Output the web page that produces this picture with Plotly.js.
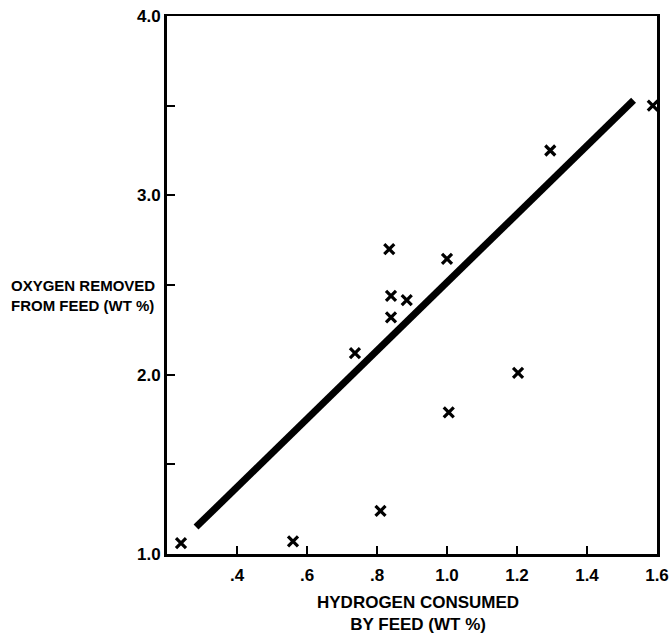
<!DOCTYPE html>
<html>
<head>
<meta charset="utf-8">
<script src="https://cdn.plot.ly/plotly-3.0.1.min.js"></script>
<style>html,body{margin:0;padding:0;background:#fff;}#chart{width:671px;height:638px;}</style>
</head>
<body>
<div id="chart"></div>
<script>
// Data
var hydrogenConsumed = [0.24, 0.56, 0.81, 0.835, 1.0, 0.84, 0.885, 0.84, 0.737, 1.203, 1.005, 1.295, 1.588];
var oxygenRemoved   = [1.06, 1.07, 1.24, 2.70, 2.646, 2.44, 2.415, 2.32, 2.12, 2.01, 1.79, 3.25, 3.50];
var fitX = [0.283, 1.533];
var fitY = [1.15, 3.53];
var xTickVals = [0.4, 0.6, 0.8, 1.0, 1.2, 1.4, 1.6];
var xTickText = ['.4', '.6', '.8', '1.0', '1.2', '1.4', '1.6'];
var yTickVals = [1.0, 1.5, 2.0, 2.5, 3.0, 3.5, 4.0];
var yTickText = ['1.0', '', '2.0', '', '3.0', '', '4.0'];

var FONT = "'Liberation Sans', Arial, sans-serif";
function bold(arr) { return arr.map(function (t) { return t ? '<b>' + t + '</b>' : ''; }); }

var traces = [
  {
    x: fitX, y: fitY, mode: 'lines', type: 'scatter',
    line: {color: '#000', width: 7}, hoverinfo: 'skip'
  },
  {
    x: hydrogenConsumed, y: oxygenRemoved, mode: 'markers', type: 'scatter',
    marker: {symbol: 'x-thin', size: 10, color: '#000', line: {color: '#000', width: 3.2}}
  }
];

var layout = {
  width: 671, height: 638,
  margin: {l: 167, r: 14, t: 16, b: 84},
  paper_bgcolor: '#fff', plot_bgcolor: '#fff',
  showlegend: false,
  font: {family: FONT, color: '#000', size: 17},
  xaxis: {
    range: [0.2, 1.6], tickvals: xTickVals, ticktext: bold(xTickText),
    ticks: 'inside', ticklen: 8, tickwidth: 2, tickcolor: '#000',
    showgrid: false, zeroline: false,
    showline: true, linecolor: '#000', linewidth: 2.5, mirror: true,
    tickfont: {family: FONT, size: 17, color: '#000'},
    ticklabelstandoff: 4
  },
  yaxis: {
    range: [1.0, 4.0], tickvals: yTickVals, ticktext: bold(yTickText),
    ticks: 'inside', ticklen: 8, tickwidth: 2, tickcolor: '#000',
    showgrid: false, zeroline: false,
    showline: true, linecolor: '#000', linewidth: 3, mirror: true,
    tickfont: {family: FONT, size: 17, color: '#000'}
  },
  annotations: [
    {
      xref: 'paper', yref: 'paper',
      x: (9 - 167) / 490, y: (554 - 275) / 538,
      xanchor: 'left', yanchor: 'top', align: 'left', showarrow: false,
      text: '<b>OXYGEN REMOVED<br>FROM FEED (WT %)</b>',
      font: {family: FONT, size: 15, color: '#000'}
    },
    {
      xref: 'paper', yref: 'paper',
      x: (418 - 167) / 490, y: (554 - 591) / 538,
      xanchor: 'center', yanchor: 'top', align: 'center', showarrow: false,
      text: '<b>HYDROGEN CONSUMED<br>BY FEED (WT %)</b>',
      font: {family: FONT, size: 17, color: '#000'}
    }
  ]
};

Plotly.newPlot('chart', traces, layout, {displayModeBar: false, staticPlot: true});
</script>
</body>
</html>
